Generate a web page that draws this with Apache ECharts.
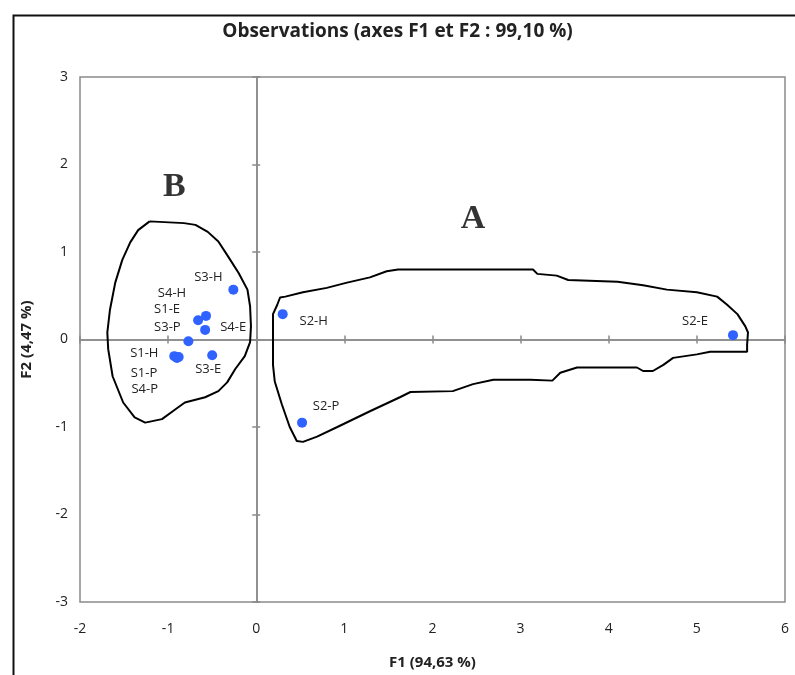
<!DOCTYPE html>
<html>
<head>
<meta charset="utf-8">
<script src="https://cdn.jsdelivr.net/npm/echarts@6/dist/echarts.min.js"></script>
<style>
 html, body { margin: 0; padding: 0; background: #fff; }
 #chart { width: 795px; height: 675px; }
</style>
</head>
<body>
<div id="chart"></div>
<script>
// observations
var names = ['S1-E', 'S1-H', 'S1-P', 'S2-E', 'S2-H', 'S2-P', 'S3-E', 'S3-H', 'S3-P', 'S4-E', 'S4-H', 'S4-P'];
var f1 = [-0.66, -0.93, -0.90, 5.41, 0.30, 0.52, -0.50, -0.26, -0.77, -0.58, -0.57, -0.88];
var f2 = [0.22, -0.19, -0.21, 0.05, 0.29, -0.95, -0.18, 0.57, -0.02, 0.11, 0.27, -0.20];

var xTicks = [-2, -1, 0, 1, 2, 3, 4, 5, 6];
var yTicks = [-3, -2, -1, 0, 1, 2, 3];

// hand drawn groups
var groupB = [[-1.21, 1.35], [-0.82, 1.33], [-0.69, 1.31], [-0.55, 1.23], [-0.43, 1.12], [-0.32, 0.95],
 [-0.20, 0.76], [-0.10, 0.57], [-0.07, 0.38], [-0.06, 0.15], [-0.07, -0.03], [-0.13, -0.19],
 [-0.24, -0.34], [-0.33, -0.49], [-0.43, -0.59], [-0.58, -0.66], [-0.81, -0.72], [-0.92, -0.80],
 [-1.07, -0.91], [-1.26, -0.95], [-1.38, -0.89], [-1.51, -0.72], [-1.63, -0.42], [-1.68, -0.11],
 [-1.69, 0.08], [-1.66, 0.34], [-1.60, 0.65], [-1.52, 0.91], [-1.43, 1.11], [-1.34, 1.25], [-1.21, 1.35]];
var groupA = [[0.24, 0.40], [0.27, 0.48], [0.33, 0.49], [0.53, 0.54], [0.80, 0.59], [1.03, 0.65],
 [1.29, 0.71], [1.48, 0.78], [1.61, 0.80], [3.14, 0.80], [3.19, 0.75], [3.41, 0.73], [3.54, 0.68],
 [4.10, 0.66], [4.39, 0.62], [4.66, 0.57], [5.00, 0.54], [5.23, 0.49], [5.34, 0.40], [5.46, 0.29],
 [5.55, 0.15], [5.58, 0.08], [5.57, -0.06], [5.57, -0.14], [5.15, -0.14], [5.00, -0.17], [4.73, -0.21],
 [4.62, -0.29], [4.50, -0.36], [4.39, -0.36], [4.32, -0.32], [3.64, -0.32], [3.45, -0.38], [3.36, -0.47],
 [3.11, -0.46], [2.69, -0.46], [2.46, -0.51], [2.23, -0.59], [1.75, -0.60], [1.63, -0.66], [1.29, -0.82],
 [0.92, -1.00], [0.69, -1.11], [0.53, -1.17], [0.46, -1.16], [0.38, -1.00], [0.29, -0.74], [0.21, -0.48],
 [0.19, -0.29], [0.19, 0.02], [0.19, 0.29], [0.24, 0.40]];
var groupNames = ['B', 'A'];
var groupLetterPos = [[-0.93, 1.74], [2.46, 1.38]];

// where each point label sits (px offset from the dot)
var labelOffset = {
 'S3-H': [-25, -12], 'S4-H': [-34, -23], 'S1-E': [-31, -11], 'S4-E': [28, -3],
 'S3-P': [-21, -14], 'S3-E': [-4, 14], 'S1-H': [-30, -3], 'S1-P': [-33, 15],
 'S4-P': [-34, 32], 'S2-H': [31, 7], 'S2-P': [24, -16], 'S2-E': [-38, -14]
};

var font = 'Open Sans';
var pts = names.map(function (n, i) {
 return {
  name: n,
  value: [f1[i], f2[i]],
  label: { offset: labelOffset[n] }
 };
});

function valAxis(min, max, extra) {
 var a = {
  type: 'value', min: min, max: max, interval: 1,
  splitLine: { show: false },
  axisLine: { show: false },
  axisTick: { show: false },
  axisLabel: { show: false }
 };
 for (var k in extra) a[k] = extra[k];
 return a;
}

var gray = '#8a8a8a';
var zeroLine = { show: true, onZero: true, lineStyle: { color: gray, width: 1.5 } };

var chart = echarts.init(document.getElementById('chart'));
chart.setOption({
 animation: false,
 title: {
  text: 'Observations (axes F1 et F2 : 99,10 %)',
  left: 'center', top: 17,
  textStyle: { fontFamily: font, fontSize: 19, fontWeight: 'bold', color: '#222' }
 },
 graphic: [{
  type: 'rect', left: 11, top: 13,
  shape: { width: 820, height: 700 },
  style: { fill: 'none', stroke: '#111', lineWidth: 2 }
 }],
 grid: { left: 80, right: 10, top: 77, bottom: 72, show: true, borderColor: gray, borderWidth: 1.5 },
 xAxis: [
  valAxis(xTicks[0], xTicks[xTicks.length - 1], {
   name: 'F1 (94,63 %)', nameLocation: 'middle', nameGap: 53,
   nameTextStyle: { fontFamily: font, fontSize: 15, fontWeight: 'bold', color: '#222' },
   axisLabel: { show: true, margin: 20, fontFamily: font, fontSize: 14, color: '#222' }
  }),
  valAxis(xTicks[0], xTicks[xTicks.length - 1], { axisLine: zeroLine, axisTick: { show: true, length: 4, lineStyle: { color: gray, width: 1.5 } } }),
  valAxis(xTicks[0], xTicks[xTicks.length - 1], { axisLine: zeroLine, axisTick: { show: true, inside: true, length: 4, lineStyle: { color: gray, width: 1.5 } } })
 ],
 yAxis: [
  valAxis(yTicks[0], yTicks[yTicks.length - 1], {
   name: 'F2 (4,47 %)', nameLocation: 'middle', nameGap: 46,
   nameTextStyle: { fontFamily: font, fontSize: 15, fontWeight: 'bold', color: '#222' },
   axisLabel: { show: true, margin: 12, fontFamily: font, fontSize: 14, color: '#222' }
  }),
  valAxis(yTicks[0], yTicks[yTicks.length - 1], { position: 'left', axisLine: zeroLine, axisTick: { show: true, length: 4, lineStyle: { color: gray, width: 1.5 } } }),
  valAxis(yTicks[0], yTicks[yTicks.length - 1], { position: 'left', axisLine: zeroLine, axisTick: { show: true, inside: true, length: 4, lineStyle: { color: gray, width: 1.5 } } })
 ],
 series: [{
  type: 'line', data: groupB, showSymbol: false, symbol: 'none',
  lineStyle: { color: '#000', width: 2 }, z: 3, silent: true
 }, {
  type: 'line', data: groupA, showSymbol: false, symbol: 'none',
  lineStyle: { color: '#000', width: 2 }, z: 3, silent: true
 }, {
  type: 'scatter', symbolSize: 0, z: 4, silent: true,
  data: groupNames.map(function (g, i) { return { name: g, value: groupLetterPos[i] }; }),
  label: {
   show: true, position: 'inside', formatter: '{b}',
   fontFamily: 'Liberation Serif', fontSize: 34, fontWeight: 'bold', color: '#000'
  }
 }, {
  type: 'scatter', data: pts, symbolSize: 10, z: 5,
  itemStyle: { color: '#2f62ff', opacity: 1 },
  label: {
   show: true, position: 'inside', formatter: '{b}',
   fontFamily: font, fontSize: 13, color: '#222'
  }
 }]
});
</script>
</body>
</html>
